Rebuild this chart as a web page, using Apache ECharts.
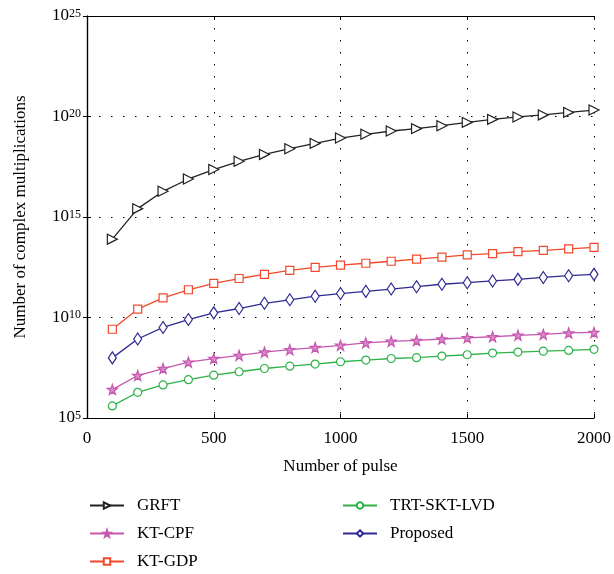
<!DOCTYPE html>
<html>
<head>
<meta charset="utf-8">
<script src="https://cdn.jsdelivr.net/npm/echarts@6/dist/echarts.min.js"></script>
<style>html,body{margin:0;padding:0;background:#fff;}#c{width:614px;height:574px;}</style>
</head>
<body>
<div id="c"></div>
<script>
const pulses = [100,200,300,400,500,600,700,800,900,1000,1100,1200,1300,1400,1500,1600,1700,1800,1900,2000];
const grft = [7.9e13,2.6e15,1.9e16,7.8e16,2.3e17,5.9e17,1.3e18,2.5e18,4.6e18,8.5e18,1.3e19,1.9e19,2.5e19,3.5e19,5.1e19,7.2e19,9.5e19,1.2e20,1.6e20,2.1e20];
const ktcpf = [2.6e6,1.3e7,2.9e7,6.0e7,9.1e7,1.3e8,1.9e8,2.5e8,3.2e8,4.1e8,5.5e8,6.5e8,7.2e8,8.5e8,9.8e8,1.1e9,1.3e9,1.45e9,1.7e9,1.8e9];
const ktgdp = [2.6e9,2.6e10,9.5e10,2.4e11,5.0e11,8.7e11,1.4e12,2.2e12,3.1e12,4.0e12,5.0e12,6.3e12,8.1e12,1.0e13,1.3e13,1.5e13,1.9e13,2.2e13,2.6e13,3.1e13];
const trt = [4.0e5,1.9e6,4.4e6,8.1e6,1.35e7,2.0e7,2.9e7,3.8e7,4.8e7,6.3e7,7.6e7,9.1e7,1.0e8,1.2e8,1.4e8,1.7e8,1.9e8,2.1e8,2.3e8,2.6e8];
const proposed = [9.8e7,8.5e8,3.2e9,7.9e9,1.7e10,2.8e10,5.1e10,7.6e10,1.15e11,1.55e11,2.0e11,2.6e11,3.4e11,4.5e11,5.4e11,6.6e11,7.9e11,9.8e11,1.2e12,1.4e12];
const seriesNames = ['GRFT','KT-CPF','KT-GDP','TRT-SKT-LVD','Proposed'];

const FONT = 'Liberation Serif';
const pairs = arr => pulses.map((p,i)=>[p,arr[i]]);
const star = 'path://M50,0 L61.8,35.5 L98.1,35.5 L69.1,57.3 L79.4,92.7 L50,71.4 L20.6,92.7 L30.9,57.3 L1.9,35.5 L38.2,35.5 Z';

function mk(name, data, color, symbol, size, fill, extra) {
  return Object.assign({
    name: name, type: 'line', xAxisIndex: 0, yAxisIndex: 0,
    data: pairs(data), symbol: symbol, symbolSize: size,
    lineStyle: {color: color, width: 1.3},
    itemStyle: {color: fill, borderColor: color, borderWidth: 1.2},
    animation: false, z: 3
  }, extra || {});
}

const chart = echarts.init(document.getElementById('c'), null, {renderer: 'canvas'});
const axisLineStyle = {lineStyle: {color: '#000', width: 1.2}};
const gridDots = {show: true, lineStyle: {color: '#000', type: [1.5, 10.5], width: 1}};
const legendText = {fontFamily: FONT, fontSize: 17, color: '#000', padding: [0,0,0,8], lineHeight: 17};
chart.setOption({
  backgroundColor: '#fff',
  animation: false,
  grid: {left: 87, right: 19, top: 16, bottom: 156, containLabel: false},
  xAxis: [{
    type: 'value', min: 0, max: 2000, interval: 500, position: 'bottom',
    name: 'Number of pulse', nameLocation: 'middle', nameGap: 40,
    nameTextStyle: {fontFamily: FONT, fontSize: 17, color: '#000'},
    axisLine: axisLineStyle,
    axisTick: {inside: true, length: 4, lineStyle: {color: '#000'}},
    axisLabel: {fontFamily: FONT, fontSize: 17, color: '#000', margin: 12, formatter: v => String(v)},
    splitLine: gridDots
  }, {
    type: 'value', min: 0, max: 2000, interval: 500, position: 'top',
    axisLine: axisLineStyle,
    axisTick: {inside: true, length: 4, lineStyle: {color: '#000'}},
    axisLabel: {show: false}, splitLine: {show: false}
  }],
  yAxis: [{
    type: 'log', logBase: 10, min: 1e5, max: 1e25, interval: 5,
    name: 'Number of complex multiplications', nameLocation: 'middle', nameGap: 58,
    nameTextStyle: {fontFamily: FONT, fontSize: 17, color: '#000'},
    axisLine: axisLineStyle,
    axisTick: {inside: true, length: 4, lineStyle: {color: '#000'}},
    minorTick: {show: false},
    axisLabel: {
      margin: 6,
      formatter: v => '{b|10}{s|' + Math.round(Math.log10(v)) + '}',
      rich: {
        b: {fontFamily: FONT, fontSize: 17, color: '#000', verticalAlign: 'bottom', lineHeight: 17},
        s: {fontFamily: FONT, fontSize: 12, color: '#000', verticalAlign: 'top', padding: [0,0,10,0], lineHeight: 12}
      }
    },
    splitLine: gridDots
  }, {
    type: 'log', logBase: 10, min: 1e5, max: 1e25, interval: 5, position: 'right',
    axisLine: axisLineStyle,
    axisTick: {inside: true, length: 4, lineStyle: {color: '#000'}},
    axisLabel: {show: false}, splitLine: {show: false}
  }],
  legend: [{
    data: ['GRFT','KT-CPF','KT-GDP'], orient: 'vertical', left: 89, top: 497, padding: 0,
    itemWidth: 34, itemHeight: 8, itemGap: 11,
    textStyle: legendText
  }, {
    data: ['TRT-SKT-LVD','Proposed'], orient: 'vertical', left: 342, top: 497, padding: 0,
    itemWidth: 34, itemHeight: 8, itemGap: 11,
    textStyle: legendText
  }],
  series: [
    mk(seriesNames[0], grft, '#222222', 'triangle', [10, 10], '#fff', {symbolRotate: -90}),
    mk(seriesNames[1], ktcpf, '#c557ae', star, 10, '#d98acb'),
    mk(seriesNames[2], ktgdp, '#f2482c', 'rect', 8, '#fff'),
    mk(seriesNames[3], trt, '#2fb24a', 'circle', 8, '#fff'),
    mk(seriesNames[4], proposed, '#2f2a92', 'diamond', [8, 12], '#fff')
  ]
});
</script>
</body>
</html>
